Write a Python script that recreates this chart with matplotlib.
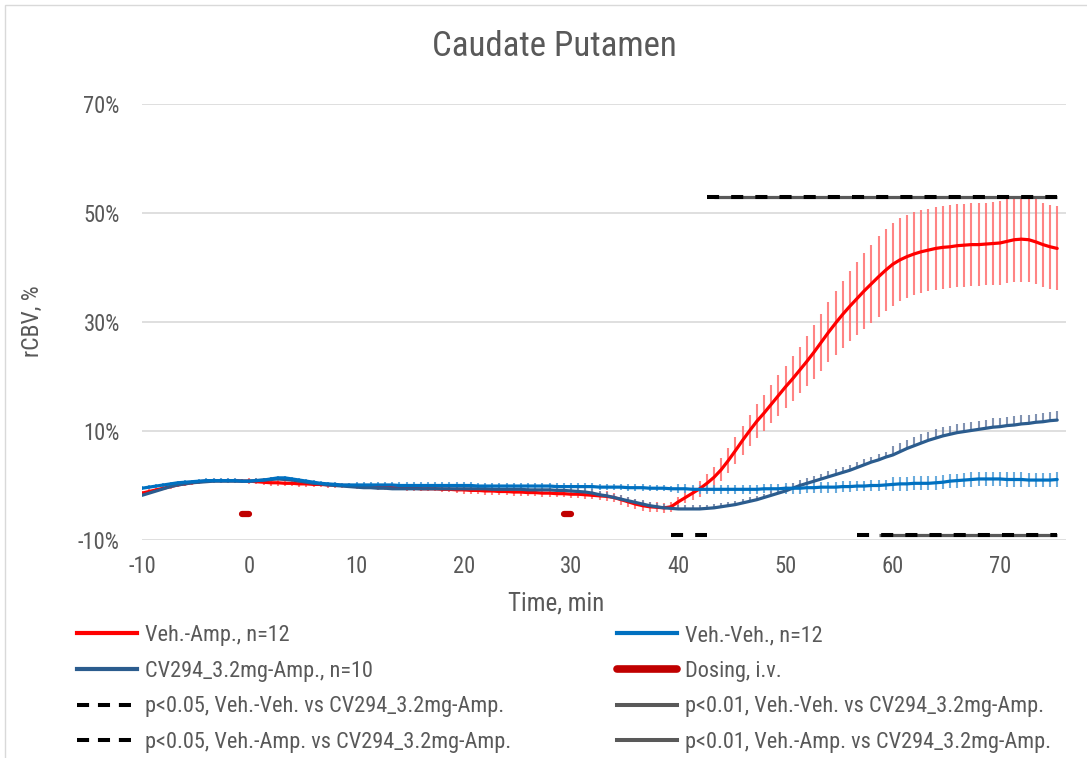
import numpy as np
import matplotlib
matplotlib.use("Agg")
import matplotlib.pyplot as plt
from matplotlib.lines import Line2D
from matplotlib import font_manager as fm

# ---- data -------------------------------------------------------------
# sampling every 40 s, from -10 min to 75.33 min
time_min = np.round(-10 + np.arange(129) * 2 / 3, 2)

veh_amp = [
    -1.4, -1.1, -0.8, -0.5, -0.2, 0.1, 0.3, 0.5, 0.7, 0.8, 0.9, 0.9, 0.9, 0.9, 0.8,
    0.8, 0.7, 0.6, 0.5, 0.5, 0.4, 0.4, 0.3, 0.3, 0.2, 0.2, 0.1, 0.1, 0.0, 0.0,
    -0.1, -0.2, -0.2, -0.3, -0.3, -0.4, -0.4, -0.5, -0.5, -0.6, -0.6, -0.6, -0.7, -0.7, -0.8,
    -0.8, -0.9, -0.9, -1.0, -1.0, -1.1, -1.1, -1.2, -1.2, -1.3, -1.3, -1.4, -1.4, -1.5, -1.5,
    -1.6, -1.6, -1.7, -1.8, -1.9, -2.0, -2.2, -2.6, -3.0, -3.4, -3.7, -3.9, -4.0, -4.1, -3.9,
    -3.0, -2.2, -1.4, -0.6, 0.4, 1.5, 2.9, 4.6, 6.4, 8.3, 10.1, 11.8, 13.3, 14.9, 16.5,
    18.1, 19.6, 21.2, 22.8, 24.5, 26.3, 28.1, 29.8, 31.4, 32.9, 34.3, 35.7, 37.0, 38.3, 39.5,
    40.6, 41.4, 42.0, 42.5, 42.9, 43.2, 43.5, 43.7, 43.8, 44.0, 44.1, 44.2, 44.2, 44.3, 44.4,
    44.5, 44.8, 45.1, 45.2, 45.1, 44.7, 44.2, 43.8, 43.5,
]
veh_amp_err = (
    [0.4] * 15 + [0.5] * 30 + [0.7] * 20 + [0.9] * 11
    + [1.1, 1.3, 1.5, 1.7, 1.9, 2.1, 2.3, 2.5, 2.7, 2.9, 3.1, 3.3, 3.5, 3.7]
    + [3.9, 4.1, 4.3, 4.6, 4.9, 5.2, 5.5, 5.8, 6.1, 6.4, 6.7, 7.0, 7.2, 7.4, 7.5]
    + [7.6] * 15
    + [7.7, 7.7, 7.8, 7.8, 7.8, 7.8, 7.7, 7.7, 7.7]
)

veh_veh = [
    -0.5, -0.3, -0.1, 0.1, 0.3, 0.5, 0.6, 0.7, 0.8, 0.9, 0.9, 0.9, 0.9, 0.9, 0.8,
    0.8, 0.9, 1.0, 1.2, 1.4, 1.4, 1.2, 1.0, 0.8, 0.6, 0.4, 0.3, 0.2, 0.1, 0.1,
    0.1, 0.1, 0.1, 0.1, 0.1, 0.1, 0.0, 0.0, 0.0, 0.0, 0.0, 0.0, 0.0, 0.0, 0.0,
    0.0, 0.0, -0.1, -0.1, -0.1, -0.1, -0.1, -0.1, -0.1, -0.1, -0.1, -0.1, -0.1, -0.2, -0.2,
    -0.2, -0.2, -0.2, -0.2, -0.3, -0.3, -0.3, -0.3, -0.4, -0.4, -0.4, -0.5, -0.5, -0.5, -0.6,
    -0.6, -0.6, -0.7, -0.7, -0.7, -0.7, -0.7, -0.7, -0.7, -0.7, -0.7, -0.7, -0.6, -0.6, -0.6,
    -0.5, -0.5, -0.5, -0.4, -0.4, -0.3, -0.3, -0.3, -0.2, -0.2, -0.1, -0.1, 0.0, 0.0, 0.1,
    0.2, 0.3, 0.3, 0.4, 0.4, 0.4, 0.5, 0.6, 0.8, 0.9, 1.0, 1.1, 1.2, 1.2, 1.2,
    1.2, 1.1, 1.1, 1.1, 1.0, 1.0, 1.0, 1.0, 1.1,
]
veh_veh_err = [0.4] * 30 + [0.6] * 45 + [0.8] * 15 + [1.0] * 15 + [1.3] * 24

cv294_amp = [
    -1.8, -1.4, -1.0, -0.6, -0.2, 0.1, 0.3, 0.5, 0.6, 0.7, 0.8, 0.8, 0.8, 0.8, 0.8,
    0.8, 0.9, 1.0, 1.1, 1.2, 1.1, 1.0, 0.8, 0.6, 0.4, 0.3, 0.1, 0.0, -0.1, -0.2,
    -0.3, -0.4, -0.4, -0.5, -0.5, -0.6, -0.6, -0.6, -0.6, -0.6, -0.6, -0.6, -0.6, -0.6, -0.6,
    -0.6, -0.6, -0.6, -0.6, -0.7, -0.7, -0.7, -0.7, -0.7, -0.8, -0.8, -0.8, -0.8, -0.9, -0.9,
    -1.0, -1.1, -1.2, -1.4, -1.7, -1.9, -2.2, -2.5, -2.8, -3.1, -3.4, -3.7, -3.9, -4.1, -4.2,
    -4.3, -4.3, -4.3, -4.3, -4.2, -4.1, -3.9, -3.7, -3.5, -3.2, -2.9, -2.6, -2.2, -1.8, -1.4,
    -1.0, -0.5, 0.0, 0.4, 0.8, 1.2, 1.6, 2.0, 2.4, 2.8, 3.3, 3.8, 4.3, 4.7, 5.2,
    5.6, 6.2, 6.8, 7.3, 7.8, 8.3, 8.7, 9.1, 9.4, 9.7, 9.9, 10.1, 10.3, 10.5, 10.7,
    10.8, 11.0, 11.1, 11.3, 11.4, 11.6, 11.7, 11.9, 12.0,
]
# only the upper error is shown for this group
cv294_amp_err = [0.4] * 60 + [0.7] * 30 + [1.0] * 15 + [1.6] * 24

# i.v. dosing periods (min) and the level at which they are marked
dosing_periods = [(-0.67, 0.0), (29.33, 30.0)]
dosing_level = -5.3

# significant intervals (min)
sig05_vv_cv = [(39.33, 42.67), (56.67, 75.33)]
sig01_vv_cv = [(58.67, 75.33)]
sig05_va_cv = [(42.67, 75.33)]
sig01_va_cv = [(43.33, 75.33)]
sig_level_vv = -9.0
sig_level_va = 53.0

x_ticks = [-10, 0, 10, 20, 30, 40, 50, 60, 70]
y_ticks = [-10, 10, 30, 50, 70]

# ---- fonts: prefer a narrow sans face if one is installed --------------
_faces = [(f.name, str(f.stretch)) for f in fm.fontManager.ttflist]
_names = {n for n, _ in _faces}
if "Roboto Condensed" in _names:
    FONT, STRETCH, SCALE = "Roboto Condensed", "normal", 1.12
elif ("DejaVu Sans", "condensed") in _faces:
    FONT, STRETCH, SCALE = "DejaVu Sans", "condensed", 1.0
elif "Liberation Sans Narrow" in _names:
    FONT, STRETCH, SCALE = "Liberation Sans Narrow", "normal", 1.12
else:
    FONT, STRETCH, SCALE = "Roboto", "normal", 1.0
plt.rcParams["font.family"] = [FONT, "DejaVu Sans"]
plt.rcParams["font.stretch"] = STRETCH

FS_TICK = 14.5 * SCALE
FS_LAB = 16 * SCALE
FS_TITLE = 22.4 * SCALE
FS_LEG = 14.3 * SCALE

TXT = "#595959"
C_RED = "#FF0000"
C_LBLUE = "#0070C0"
C_DBLUE = "#2B5C8E"
C_DOSE = "#C00000"
C_GRAY = "#595959"

W, H = 1087, 758
fig = plt.figure(figsize=(W / 100, H / 100), dpi=100)

# chart-area frame
fig.patches.append(plt.Rectangle((5 / W, -0.01), 1.2, 1.01 - 5 / H, transform=fig.transFigure,
                                 fill=False, edgecolor="#D9D9D9", linewidth=1.0))

L, R, T, B = 142, 1066, 104, 540
ax = fig.add_axes([L / W, 1 - B / H, (R - L) / W, (B - T) / H])
ax.set_xlim(-10, 76.15)
ax.set_ylim(-10, 70)
for s in ax.spines.values():
    s.set_visible(False)
ax.set_yticks(y_ticks)
ax.set_yticklabels([f"{v}%" for v in y_ticks])
ax.set_xticks(x_ticks)
ax.set_xticklabels([str(v) for v in x_ticks])
ax.tick_params(length=0, labelsize=FS_TICK, labelcolor=TXT)
ax.tick_params(axis="y", pad=16)
ax.tick_params(axis="x", pad=11)
ax.grid(axis="y", color="#D9D9D9", linewidth=1.2)
ax.set_axisbelow(True)

t = np.asarray(time_min)

# group curves with error bars
ax.errorbar(t, veh_amp, yerr=veh_amp_err, fmt="none", ecolor="#FF6F6F", alpha=0.85,
            elinewidth=1.5, capsize=0, zorder=2)
ax.errorbar(t, veh_veh, yerr=veh_veh_err, fmt="none", ecolor="#5BA3DA", alpha=0.9,
            elinewidth=1.5, capsize=0, zorder=2)
ax.errorbar(t, cv294_amp, yerr=[np.zeros(len(t)), cv294_amp_err], fmt="none",
            ecolor="#7487AA", alpha=0.9, elinewidth=1.5, capsize=0, zorder=2)

ax.plot(t, veh_amp, color=C_RED, lw=2.3, zorder=4, solid_capstyle="round")
ax.plot(t, cv294_amp, color=C_DBLUE, lw=2.3, zorder=4, solid_capstyle="round")
ax.plot(t, veh_veh, color=C_LBLUE, lw=2.3, zorder=5, solid_capstyle="round")

# dosing marks
for a, b in dosing_periods:
    ax.plot([a, b], [dosing_level, dosing_level], color=C_DOSE, lw=4.5,
            solid_capstyle="round", zorder=6)


def level_series(intervals, level):
    y = np.full(len(t), np.nan)
    for a, b in intervals:
        y[(t >= a - 1e-6) & (t <= b + 1e-6)] = level
    return y


for ints, lev in [(sig01_vv_cv, sig_level_vv), (sig01_va_cv, sig_level_va)]:
    ax.plot(t, level_series(ints, lev), color=C_GRAY, lw=2.3, zorder=6,
            solid_capstyle="butt")
for ints, lev in [(sig05_vv_cv, sig_level_vv), (sig05_va_cv, sig_level_va)]:
    ax.plot(t, level_series(ints, lev), color="black", lw=2.9, zorder=7,
            linestyle=(0, (3, 3)), dash_capstyle="butt")

# title and axis titles
fig.text(554 / W, 1 - 46 / H, "Caudate Putamen", ha="center", va="center",
         fontsize=FS_TITLE, color=TXT)
fig.text(32 / W, 1 - 321 / H, "rCBV, %", ha="center", va="center", rotation=90,
         fontsize=FS_LAB * 0.95, color=TXT)
fig.text(556 / W, 1 - 603 / H, "Time, min", ha="center", va="center",
         fontsize=FS_LAB, color=TXT)

# legend, two columns
h_red = Line2D([], [], color=C_RED, lw=3)
h_lb = Line2D([], [], color=C_LBLUE, lw=3)
h_db = Line2D([], [], color=C_DBLUE, lw=3)
h_dose = Line2D([], [], color=C_DOSE, lw=5.5, solid_capstyle="round")
h_05 = Line2D([], [], color="black", lw=2.9, linestyle=(0, (3, 2.2)), dash_capstyle="butt")
h_01 = Line2D([], [], color=C_GRAY, lw=2.9)

left_items = [(h_red, "Veh.-Amp., n=12"),
              (h_db, "CV294_3.2mg-Amp., n=10"),
              (h_05, "p<0.05, Veh.-Veh. vs CV294_3.2mg-Amp."),
              (h_05, "p<0.05, Veh.-Amp. vs CV294_3.2mg-Amp.")]
right_items = [(h_lb, "Veh.-Veh., n=12"),
               (h_dose, "Dosing, i.v."),
               (h_01, "p<0.01, Veh.-Veh. vs CV294_3.2mg-Amp."),
               (h_01, "p<0.01, Veh.-Amp. vs CV294_3.2mg-Amp.")]

hl = 60 / (FS_LEG * 100 / 72)
tp = 8 / (FS_LEG * 100 / 72)
for items, x0 in [(left_items, 77), (right_items, 617)]:
    fig.legend([h for h, _ in items], [s for _, s in items],
               loc="upper left", bbox_to_anchor=(x0 / W, 1 - 625 / H),
               frameon=False, fontsize=FS_LEG, handlelength=hl,
               handletextpad=tp, labelspacing=0.66, borderpad=0,
               borderaxespad=0, labelcolor=TXT)

fig.savefig("out.png", dpi=100)
